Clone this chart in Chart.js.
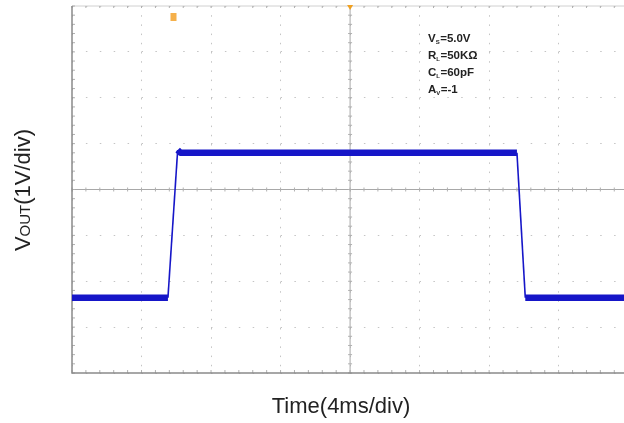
<!DOCTYPE html>
<html>
<head>
<meta charset="utf-8">
<script src="https://cdn.jsdelivr.net/npm/chart.js@4"></script>
<style>
  html, body { margin: 0; padding: 0; background: #fff; }
  #wrap { width: 624px; height: 423px; position: relative; }
</style>
</head>
<body>
<div id="wrap"><canvas id="scope"></canvas></div>
<script>
// scope capture, values in divisions (x: 4ms/div, y: 1V/div, 0 = screen centre)
const timeDiv = [0, 1.38, 1.52, 1.56, 6.40, 6.52, 7.94];
const voutDiv = [-2.36, -2.36, 0.86, 0.80, 0.80, -2.36, -2.36];
const xDivs = [0, 1, 2, 3, 4, 5, 6, 7];
const yDivs = [-4, -3, -2, -1, 0, 1, 2, 3, 4];
const notes = [
  ['V', 'S', '=5.0V'],
  ['R', 'L', '=50K\u03A9'],
  ['C', 'L', '=60pF'],
  ['A', 'V', '=-1']
];

const GRID = '#c4c4c4';
const FRAME = '#8a8a8a';
const WAVE = '#1616c8';

// frame, centre cross with minor ticks, labels
const scopeDeco = {
  id: 'scopeDeco',
  beforeDatasetsDraw(chart) {
    const { ctx, chartArea: a, scales: { x, y } } = chart;
    const cx = x.getPixelForValue(4), cy = y.getPixelForValue(0);
    ctx.save();
    ctx.strokeStyle = '#a8a8a8';
    ctx.lineWidth = 1;
    ctx.beginPath();
    ctx.moveTo(a.left, cy); ctx.lineTo(a.right, cy);
    ctx.moveTo(cx, a.top); ctx.lineTo(cx, a.bottom);
    ctx.stroke();
    ctx.strokeStyle = '#d0d0d0';
    ctx.beginPath();
    ctx.moveTo(a.left, a.top); ctx.lineTo(a.right, a.top);
    ctx.stroke();
    // minor ticks every 0.2 div
    ctx.strokeStyle = '#b0b0b0';
    ctx.beginPath();
    for (let v = 0; v <= 7.94; v += 0.2) {
      const px = x.getPixelForValue(v);
      ctx.moveTo(px, cy - 2); ctx.lineTo(px, cy + 2);
      ctx.moveTo(px, a.bottom); ctx.lineTo(px, a.bottom - 3);
      ctx.moveTo(px, a.top); ctx.lineTo(px, a.top + 2);
    }
    for (let v = -4; v <= 4.001; v += 0.2) {
      const py = y.getPixelForValue(v);
      ctx.moveTo(cx - 2, py); ctx.lineTo(cx + 2, py);
      ctx.moveTo(a.left, py); ctx.lineTo(a.left + 3, py);
    }
    ctx.stroke();
    // left + bottom frame
    ctx.strokeStyle = FRAME;
    ctx.lineWidth = 1.5;
    ctx.beginPath();
    ctx.moveTo(a.left, a.top); ctx.lineTo(a.left, a.bottom); ctx.lineTo(a.right, a.bottom);
    ctx.stroke();
    // trigger markers
    ctx.fillStyle = '#f0a020';
    ctx.beginPath();
    ctx.moveTo(cx - 3, a.top - 1); ctx.lineTo(cx + 3, a.top - 1); ctx.lineTo(cx, a.top + 4);
    ctx.fill();
    ctx.fillStyle = '#f5b04a';
    ctx.fillRect(x.getPixelForValue(1.46) - 3, a.top + 7, 6, 8);
    ctx.restore();
  },
  afterDraw(chart) {
    const { ctx } = chart;
    ctx.save();
    ctx.fillStyle = '#222';
    // annotation block
    const bold = 'bold 11.5px "Liberation Sans", Arial, sans-serif';
    let yy = 42;
    notes.forEach(([m, s, rest]) => {
      let px = 428;
      ctx.font = bold;
      ctx.fillText(m, px, yy);
      px += ctx.measureText(m).width;
      ctx.font = 'bold 6px "Liberation Sans", sans-serif';
      ctx.fillText(s, px, yy + 2);
      px += ctx.measureText(s).width + 0.5;
      ctx.font = bold;
      ctx.fillText(rest, px, yy);
      yy += 17;
    });
    // x title
    ctx.font = '22px "Liberation Sans", Arial, sans-serif';
    ctx.textAlign = 'center';
    ctx.fillText('Time(4ms/div)', 341, 413);
    // y title, rotated, with OUT subscript
    ctx.translate(30, 190);
    ctx.rotate(-Math.PI / 2);
    ctx.textAlign = 'left';
    const big = '22px "Liberation Sans", Arial, sans-serif';
    const small = '15px "Liberation Sans", Arial, sans-serif';
    ctx.font = big; const w1 = ctx.measureText('V').width;
    ctx.font = small; const w2 = ctx.measureText('OUT').width;
    ctx.font = big; const w3 = ctx.measureText('(1V/div)').width;
    let px = -(w1 + w2 + w3) / 2;
    ctx.font = big; ctx.fillText('V', px, 0); px += w1;
    ctx.font = small; ctx.fillText('OUT', px, 0); px += w2;
    ctx.font = big; ctx.fillText('(1V/div)', px, 0);
    ctx.restore();
  }
};

new Chart(document.getElementById('scope'), {
  type: 'line',
  data: {
    datasets: [{
      data: timeDiv.map((t, i) => ({ x: t, y: voutDiv[i] })),
      borderColor: WAVE,
      borderWidth: 6,
      borderJoinStyle: 'round',
      pointRadius: 0,
      tension: 0,
      segment: {
        borderWidth: c => (Math.abs(c.p0.parsed.y - c.p1.parsed.y) < 0.2 ? 6.5 : 1.6)
      }
    }]
  },
  options: {
    responsive: true,
    maintainAspectRatio: false,
    animation: false,
    layout: { padding: { left: 72, top: 6, right: 0, bottom: 50 } },
    plugins: { legend: { display: false }, tooltip: { enabled: false } },
    scales: {
      x: {
        type: 'linear', min: 0, max: 7.94,
        afterBuildTicks: s => { s.ticks = xDivs.map(v => ({ value: v })); },
        ticks: { display: false },
        grid: { color: GRID, lineWidth: 1, drawTicks: false },
        border: { display: false, dash: [1.5, 7.7] }
      },
      y: {
        type: 'linear', min: -4, max: 4,
        afterBuildTicks: s => { s.ticks = yDivs.map(v => ({ value: v })); },
        ticks: { display: false },
        grid: { color: GRID, lineWidth: 1, drawTicks: false },
        border: { display: false, dash: [1.5, 12.4] }
      }
    }
  },
  plugins: [scopeDeco]
});
</script>
</body>
</html>
